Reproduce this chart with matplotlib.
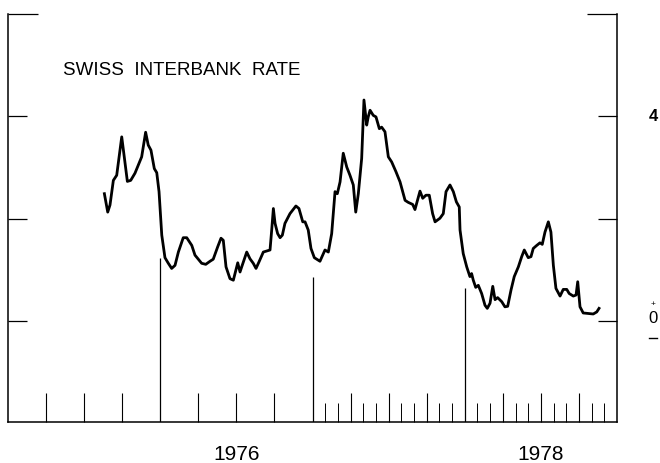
import matplotlib
matplotlib.use("Agg")
import matplotlib.pyplot as plt
import matplotlib.transforms as mtransforms
import numpy as np

# weekly-ish readings of the Swiss interbank rate (percent)
dates = [
    1975.633, 1975.655, 1975.670, 1975.692, 1975.714, 1975.747, 1975.784, 1975.806, 1975.834, 1975.856,
    1975.878, 1975.904, 1975.921, 1975.939, 1975.961, 1975.977, 1975.992, 1976.010, 1976.031, 1976.053,
    1976.075, 1976.097, 1976.119, 1976.151, 1976.174, 1976.207, 1976.228, 1976.250, 1976.272, 1976.299,
    1976.327, 1976.348, 1976.377, 1976.399, 1976.414, 1976.432, 1976.458, 1976.480, 1976.491, 1976.509,
    1976.524, 1976.535, 1976.568, 1976.589, 1976.611, 1976.629, 1976.649, 1976.677, 1976.699, 1976.721,
    1976.732, 1976.743, 1976.754, 1976.771, 1976.787, 1976.802, 1976.819, 1976.852, 1976.891, 1976.911,
    1976.936, 1976.951, 1976.972, 1976.990, 1977.012, 1977.049, 1977.067, 1977.082, 1977.104, 1977.126,
    1977.148, 1977.163, 1977.181, 1977.202, 1977.225, 1977.246, 1977.268, 1977.284, 1977.301, 1977.323,
    1977.338, 1977.356, 1977.366, 1977.378, 1977.399, 1977.417, 1977.439, 1977.454, 1977.476, 1977.498,
    1977.520, 1977.548, 1977.575, 1977.608, 1977.629, 1977.658, 1977.673, 1977.688, 1977.706, 1977.724,
    1977.745, 1977.767, 1977.789, 1977.805, 1977.837, 1977.859, 1977.877, 1977.903, 1977.925, 1977.945,
    1977.964, 1977.969, 1977.990, 1978.013, 1978.034, 1978.045, 1978.056, 1978.072, 1978.089, 1978.111,
    1978.133, 1978.148, 1978.166, 1978.184, 1978.199, 1978.216, 1978.243, 1978.264, 1978.282, 1978.304,
    1978.325, 1978.352, 1978.374, 1978.391, 1978.417, 1978.435, 1978.450, 1978.473, 1978.494, 1978.509,
    1978.527, 1978.549, 1978.566, 1978.582, 1978.599, 1978.626, 1978.647, 1978.670, 1978.686, 1978.713,
    1978.731, 1978.742, 1978.757, 1978.778, 1978.811, 1978.844, 1978.867, 1978.882,
]
rates = [
    2.49, 2.13, 2.27, 2.75, 2.85, 3.60, 2.73, 2.75, 2.89, 3.05,
    3.21, 3.69, 3.44, 3.34, 2.98, 2.90, 2.53, 1.68, 1.24, 1.13,
    1.03, 1.09, 1.35, 1.63, 1.63, 1.48, 1.29, 1.21, 1.13, 1.11,
    1.17, 1.21, 1.45, 1.62, 1.58, 1.06, 0.83, 0.80, 0.93, 1.14,
    0.96, 1.06, 1.35, 1.22, 1.13, 1.03, 1.16, 1.35, 1.37, 1.39,
    1.78, 2.20, 1.91, 1.71, 1.63, 1.68, 1.91, 2.10, 2.25, 2.20,
    1.94, 1.94, 1.78, 1.42, 1.24, 1.17, 1.29, 1.39, 1.35, 1.71,
    2.53, 2.49, 2.72, 3.28, 3.01, 2.85, 2.66, 2.13, 2.49, 3.18,
    4.32, 3.83, 3.99, 4.12, 4.02, 3.99, 3.76, 3.79, 3.70, 3.21,
    3.11, 2.92, 2.72, 2.36, 2.32, 2.28, 2.18, 2.34, 2.54, 2.40,
    2.46, 2.46, 2.10, 1.94, 2.01, 2.10, 2.53, 2.66, 2.53, 2.33,
    2.23, 1.78, 1.32, 1.06, 0.87, 0.93, 0.80, 0.66, 0.70, 0.54,
    0.31, 0.25, 0.35, 0.68, 0.42, 0.46, 0.38, 0.28, 0.29, 0.61,
    0.87, 1.06, 1.26, 1.39, 1.24, 1.26, 1.42, 1.48, 1.53, 1.50,
    1.74, 1.94, 1.74, 1.09, 0.64, 0.49, 0.62, 0.62, 0.54, 0.49,
    0.51, 0.77, 0.28, 0.16, 0.15, 0.14, 0.18, 0.25,
]

year_lines = [1976, 1977, 1978]
year_line_tops = [1.23, 0.86, 0.64]
year_labels = ["1976", "1978"]
year_label_pos = [1976.5, 1978.5]

# quarter ticks everywhere, monthly ticks only from 1977 on
quarter_ticks = [y + q for y in range(1975, 1979) for q in (0.25, 0.5, 0.75)]
month_ticks = [1977 + m / 12 for m in range(1, 24) if m % 3 != 0]

fig = plt.figure(figsize=(6.6, 4.63), dpi=100)
ax = fig.add_axes([8 / 660, 41 / 463, 609 / 660, 408 / 463])
ax.set_xlim(1975, 1979)
ax.set_ylim(-1.97, 6.0)

ax.plot(dates, rates, color="black", lw=2.0, solid_joinstyle="round")
ax.vlines(year_lines, -1.97, year_line_tops, color="black", lw=0.9)

for side in ("left", "right", "bottom"):
    ax.spines[side].set_linewidth(1.1)
ax.spines["top"].set_visible(False)

ax.set_xticks(quarter_ticks)
ax.set_xticks(month_ticks, minor=True)
ax.tick_params(axis="x", which="major", direction="in", length=21, width=0.8,
               labelbottom=False, top=False)
ax.tick_params(axis="x", which="minor", direction="in", length=13.5, width=0.7, top=False)

ax.set_yticks([0, 2, 4])
ax.set_yticks([6], minor=True)
ax.tick_params(axis="y", which="major", direction="in", length=14, width=0.9,
               left=True, right=True, labelleft=False, labelright=False)
ax.tick_params(axis="y", which="minor", direction="in", length=21.5, width=0.9,
               left=True, right=True)

ax.text(0.09, 4.9, "SWISS  INTERBANK  RATE", transform=ax.get_yaxis_transform(),
        family="Liberation Sans", fontsize=13.5, va="center", ha="left")

yt = ax.get_yaxis_transform()
ax.text(1.059, 4.0, "4", transform=yt, family="Liberation Sans", fontsize=12,
        fontweight="bold", ha="center", va="center", clip_on=False)
ax.text(1.059, 0.05, "0", transform=yt, family="Liberation Sans", fontsize=12,
        ha="center", va="center", clip_on=False)
ax.text(1.059, 0.33, "+", transform=yt, family="Liberation Sans", fontsize=6,
        ha="center", va="center", clip_on=False)
ax.plot([1.053, 1.066], [-0.33, -0.33], transform=yt, color="black", lw=1.0,
        clip_on=False)

xt = mtransforms.blended_transform_factory(ax.transData, fig.transFigure)
for label, pos in zip(year_labels, year_label_pos):
    fig.text(pos, 8 / 463, label, transform=xt, family="Liberation Sans",
             fontsize=15, ha="center", va="center")

fig.savefig("out.png", dpi=100)
